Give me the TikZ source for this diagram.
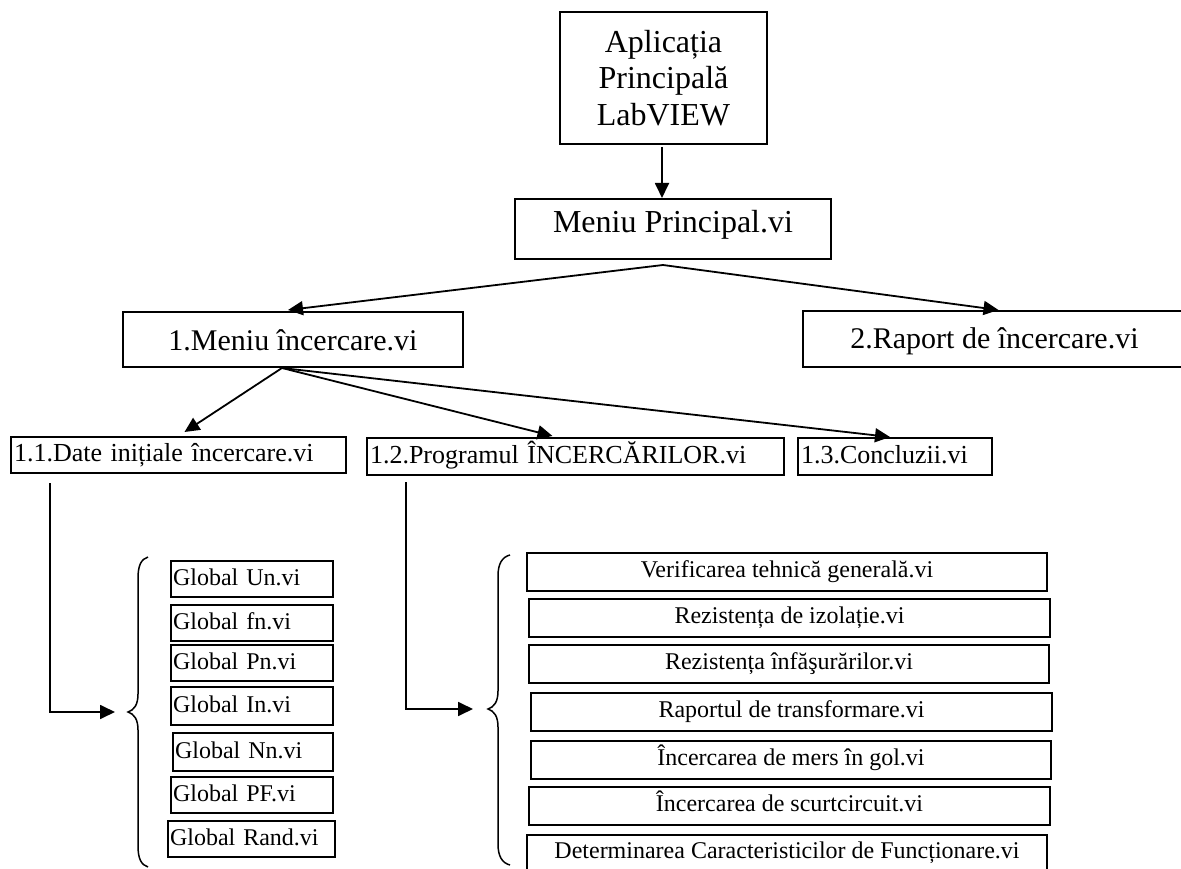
\documentclass[tikz,border=0pt]{standalone}
\usepackage{fontspec}
\setmainfont{Liberation Serif}
\usetikzlibrary{arrows.meta}
\tikzset{
  box/.style={draw, line width=2.2pt, inner sep=0pt, outer sep=0pt, anchor=north west, align=center},
  lbox/.style={box, inner xsep=3pt, align=left},
  fA/.style={font=\fontsize{30}{36.5}\selectfont},
  fT/.style={font=\fontsize{32}{36.5}\selectfont},
  fB/.style={font=\fontsize{26}{30}\selectfont, text height=19.5pt, text depth=6.5pt},
  fC/.style={font=\fontsize{24}{28}\selectfont, text height=18pt, text depth=6pt},
  fD/.style={font=\fontsize{24}{27}\selectfont, text height=17.6pt, text depth=5.9pt},
  arr/.style={line width=1.8pt, -{Triangle[length=15pt,width=14pt]}},
  curly/.style={line width=1.5pt},
}
\begin{document}
\begin{tikzpicture}[x=1pt,y=-1pt]
\useasboundingbox (0,0) rectangle (1181,869);

% top levels
\node[box,fT,minimum width=207pt,minimum height=132pt] (app) at (560,12) {Aplicația\\Principală\\LabVIEW};
\node[box,fT,minimum width=316pt,minimum height=60pt,text height=22pt,text depth=14pt] (mp) at (515,199) {Meniu Principal.vi};
\node[box,fA,minimum width=340pt,minimum height=55pt,text height=25pt,text depth=3pt] (m1) at (123,312) {1.Meniu încercare.vi};
\node[box,fA,minimum width=383pt,minimum height=56pt,text height=24pt,text depth=6pt] (m2) at (803,311) {2.Raport de încercare.vi};

% second level
\node[lbox,fB,text width=329pt,minimum height=36pt] (d11) at (11,437) {1.1.Date inițiale încercare.vi};
\node[lbox,fB,text width=411pt,minimum height=37pt] (d12) at (367,438) {1.2.Programul ÎNCERCĂRILOR.vi};
\node[lbox,fB,text width=188pt,minimum height=37pt] (d13) at (798,438) {1.3.Concluzii.vi};

% global boxes
\node[lbox,fC,inner xsep=2pt,text width=158pt,minimum height=36pt] (g1) at (171,561) {Global Un.vi};
\node[lbox,fC,inner xsep=2pt,text width=158pt,minimum height=36pt] (g2) at (171,605) {Global fn.vi};
\node[lbox,fC,inner xsep=2pt,text width=158pt,minimum height=36pt] (g3) at (171,645) {Global Pn.vi};
\node[lbox,fC,inner xsep=2pt,text width=158pt,minimum height=38pt] (g4) at (171,687) {Global In.vi};
\node[lbox,fC,inner xsep=2pt,text width=156pt,minimum height=38pt] (g5) at (173,733) {Global Nn.vi};
\node[lbox,fC,inner xsep=2pt,text width=158pt,minimum height=36pt] (g6) at (171,777) {Global PF.vi};
\node[lbox,fC,inner xsep=2pt,text width=163pt,minimum height=36pt] (g7) at (168,821) {Global Rand.vi};

% test boxes
\node[box,fD,minimum width=520pt,minimum height=38pt] (r1) at (527,553) {Verificarea tehnică generală.vi};
\node[box,fD,minimum width=521pt,minimum height=38pt] (r2) at (529,599) {Rezistența de izolație.vi};
\node[box,fD,minimum width=520pt,minimum height=38pt] (r3) at (529,645) {Rezistența înfăşurărilor.vi};
\node[box,fD,minimum width=521pt,minimum height=38pt] (r4) at (531,693) {Raportul de transformare.vi};
\node[box,fD,minimum width=520pt,minimum height=38pt] (r5) at (531,741) {Încercarea de mers în gol.vi};
\node[box,fD,minimum width=521pt,minimum height=38pt] (r6) at (529,787) {Încercarea de scurtcircuit.vi};
\node[box,fD,minimum width=520pt,minimum height=36pt] (r7) at (527,835) {Determinarea Caracteristicilor de Funcționare.vi};

% connectors
\draw[arr] ([xshift=-1.5pt,yshift=-3pt]app.south) -- ([xshift=-1.5pt,yshift=1pt]app.south |- mp.north);
\draw[arr] ([xshift=-10pt,yshift=-6pt]mp.south) -- ([xshift=-5pt,yshift=2pt]m1.north);
\draw[arr] ([xshift=-10pt,yshift=-6pt]mp.south) -- ([xshift=4pt,yshift=1pt]m2.north);
\draw[arr] ([xshift=-11pt,yshift=-1pt]m1.south) -- ([xshift=6pt,yshift=5pt]d11.north);
\draw[arr] ([xshift=-11pt,yshift=-1pt]m1.south) -- ([xshift=-23pt,yshift=2pt]d12.north);
\draw[arr] ([xshift=-11pt,yshift=-1pt]m1.south) -- ([xshift=-5pt,yshift=1pt]d13.north);

\coordinate (ls) at (50,483);
\coordinate (le) at (115,712);
\coordinate (rs) at (406,482);
\coordinate (re) at (473,709);
\draw[arr] (ls) |- (le);
\draw[arr] (rs) |- (re);

% braces
\draw[curly] (148,557) .. controls (141,559) and (138,566) .. (138,578) -- (138,694)
  .. controls (138,705) and (134,710) .. (128,712)
  .. controls (134,714) and (138,719) .. (138,730) -- (138,846)
  .. controls (138,858) and (141,865) .. (148,867);
\draw[curly] (510,555) .. controls (502,557) and (498,564) .. (498,576) -- (498,691)
  .. controls (498,702) and (494,707) .. (488,709)
  .. controls (494,711) and (498,716) .. (498,727) -- (498,844)
  .. controls (498,856) and (502,863) .. (510,865);
\end{tikzpicture}
\end{document}
